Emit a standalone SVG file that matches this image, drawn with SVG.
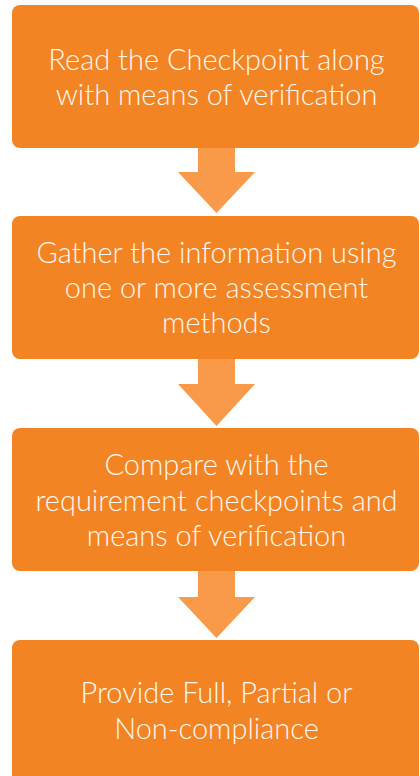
<svg xmlns="http://www.w3.org/2000/svg" width="420" height="776" viewBox="0 0 420 776">
<style>
.box{fill:#F38424;}
.arr{fill:#F89A4A;}
.t{font-family:Lato,"Open Sans","Liberation Sans",sans-serif;font-size:29px;font-weight:300;fill:#FFF6EE;text-anchor:middle;}
</style>
<rect width="420" height="776" fill="#FFFFFF"/>
<g id="connectors">
<polygon class="arr" points="198,148 235,148 235,172 255,172 216.5,213 178,172 198,172"/>
<polygon class="arr" points="198,359 235,359 235,384 255,384 216.5,426 178,384 198,384"/>
<polygon class="arr" points="198,571 235,571 235,597 255,597 216.5,638 178,597 198,597"/>
</g>
<g id="node1">
<rect class="box" x="12" y="5" width="407" height="143" rx="8"/>
<text class="t" x="216.5" y="70">Read the Checkpoint along</text>
<text class="t" x="216.5" y="105">with means of verification</text>
</g>
<g id="node2">
<rect class="box" x="12" y="216" width="407" height="143" rx="8"/>
<text class="t" x="216.5" y="263">Gather the information using</text>
<text class="t" x="216.5" y="298">one or more assessment</text>
<text class="t" x="216.5" y="333">methods</text>
</g>
<g id="node3">
<rect class="box" x="12" y="428" width="407" height="143" rx="8"/>
<text class="t" x="216.5" y="475">Compare with the</text>
<text class="t" x="216.5" y="511">requirement checkpoints and</text>
<text class="t" x="216.5" y="546">means of verification</text>
</g>
<g id="node4">
<rect class="box" x="12" y="640" width="407" height="150" rx="8"/>
<text class="t" x="216.5" y="703">Provide Full, Partial or</text>
<text class="t" x="216.5" y="739">Non-compliance</text>
</g>
</svg>
